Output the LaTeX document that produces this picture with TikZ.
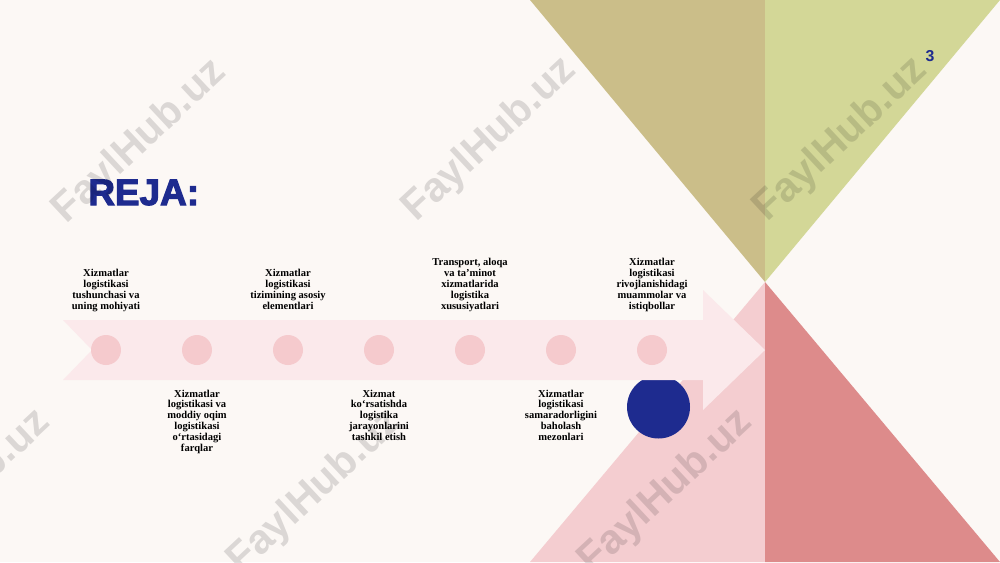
\documentclass[tikz,border=0pt]{standalone}
\usepackage{fontspec}
\setmainfont{Liberation Serif}
\newfontfamily\rejafont[BoldFeatures={FakeBold=3}]{Liberation Sans}
\newfontfamily\markfont{Liberation Sans}
\usepackage{tikz}
\usetikzlibrary{positioning}
\definecolor{pagebg}{HTML}{FCF8F5}
\definecolor{khaki}{HTML}{CBBE89}
\definecolor{limegreen}{HTML}{D3D797}
\definecolor{rosepink}{HTML}{F4CDD0}
\definecolor{rosered}{HTML}{DD8B8B}
\definecolor{arrowpink}{HTML}{FBE9EB}
\definecolor{dotpink}{HTML}{F5CACD}
\definecolor{navy}{HTML}{1E2B8F}

\begin{document}
\begin{tikzpicture}[x=0.02cm, y=-0.02cm,
    milestone/.style={circle, fill=dotpink, inner sep=0pt, minimum size=0.6cm},
    topic/.style={align=center, inner sep=0pt, font=\fontsize{6}{6.2}\selectfont\bfseries,
      execute at begin node=\strut, execute at end node=\strut},
    wmark/.style={rotate=43, text=black, text opacity=0.13, inner sep=0pt,
      font=\markfont\fontsize{23.5}{23.5}\selectfont\bfseries}]
              \fill[pagebg] (0,0) rectangle (1000,562);
              \useasboundingbox (0,0) rectangle (1000,562);
              % triangles on the right
              \fill[khaki] (530,0) -- (765,0) -- (765,282) -- cycle;
              \fill[limegreen] (765,0) -- (1000,0) -- (765,282) -- cycle;
              \fill[rosepink] (765,282) -- (530,562) -- (765,562) -- cycle;
              \fill[rosered] (765,282) -- (1000,562) -- (765,562) -- cycle;
              \node [circle, fill=navy, inner sep=0pt, minimum size=1.26cm] at (658.5,407) (goal) {};
              % the arrow
              \fill[arrowpink] (63,320) -- (703,320) -- (703,290) -- (765,350) -- (703,410)
                -- (703,380) -- (63,380) -- (92,350) -- cycle;
              \node [milestone] at (106,350) (d1) {};
              \node [milestone] at (197,350) (d2) {};
              \node [milestone] at (288,350) (d3) {};
              \node [milestone] at (379,350) (d4) {};
              \node [milestone] at (470,350) (d5) {};
              \node [milestone] at (561,350) (d6) {};
              \node [milestone] at (652,350) (d7) {};
              \node [topic, above=0.43cm of d1] (t1) {Xizmatlar\\logistikasi\\tushunchasi va\\uning mohiyati};
              \node [topic, below=0.48cm of d2] (t2) {Xizmatlar\\logistikasi va\\moddiy oqim\\logistikasi\\o‘rtasidagi\\farqlar};
              \node [topic, above=0.43cm of d3] (t3) {Xizmatlar\\logistikasi\\tizimining asosiy\\elementlari};
              \node [topic, below=0.48cm of d4] (t4) {Xizmat\\ko‘rsatishda\\logistika\\jarayonlarini\\tashkil etish};
              \node [topic, above=0.43cm of d5] (t5) {Transport, aloqa\\va ta’minot\\xizmatlarida\\logistika\\xususiyatlari};
              \node [topic, below=0.48cm of d6] (t6) {Xizmatlar\\logistikasi\\samaradorligini\\baholash\\mezonlari};
              \node [topic, above=0.43cm of d7] (t7) {Xizmatlar\\logistikasi\\rivojlanishidagi\\muammolar va\\istiqbollar};
              \node [anchor=base west, inner sep=0pt, text=navy, font=\rejafont\fontsize{21}{21}\selectfont\bfseries] at (88,205) (title) {REJA:};
              \node [anchor=base, inner sep=0pt, text=navy, font=\markfont\fontsize{9}{9}\selectfont\bfseries] at (930,61) (pagenum) {3};
%              watermarks
              \node [wmark] at (140,142) (wm1) {FaylHub.uz};
              \node [wmark] at (490,140) (wm2) {FaylHub.uz};
              \node [wmark] at (841,140) (wm3) {FaylHub.uz};
              \node [wmark] at (-36,492) (wm4) {FaylHub.uz};
              \node [wmark] at (315,492) (wm5) {FaylHub.uz};
              \node [wmark] at (666,492) (wm6) {FaylHub.uz};
\end{tikzpicture}
\end{document}
